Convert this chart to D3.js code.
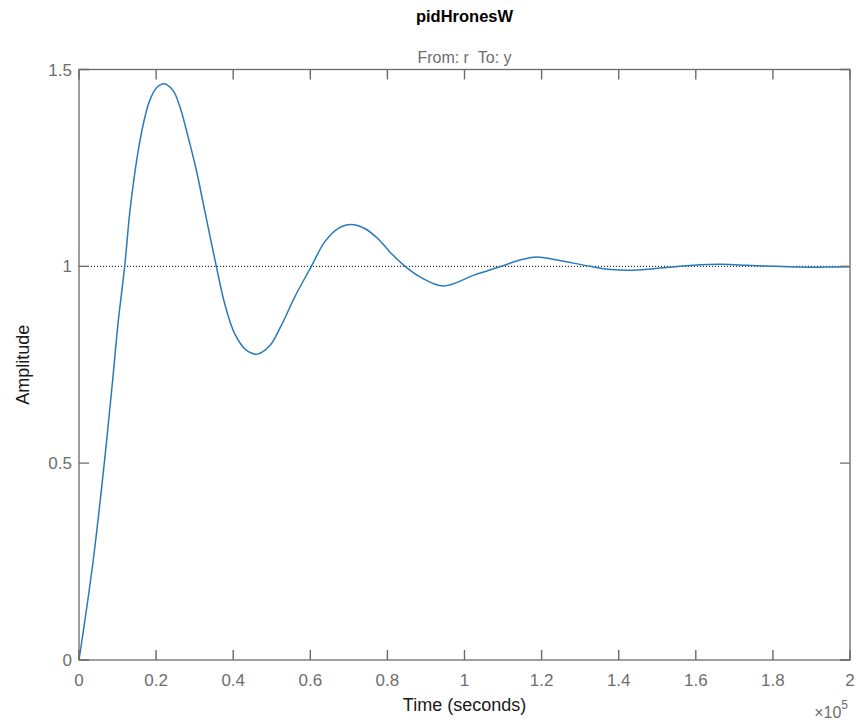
<!DOCTYPE html>
<html>
<head>
<meta charset="utf-8">
<script src="https://cdn.jsdelivr.net/npm/d3@7"></script>
<style>
  body { margin: 0; background: #fff; }
  svg { font-family: "Liberation Sans", Arial, sans-serif; }
</style>
</head>
<body>
<svg id="chart" width="859" height="722"></svg>
<script>
// step response (time in units of 1e5 s)
var time = [0, 0.013, 0.037, 0.0656, 0.0882, 0.1012, 0.1185, 0.1315, 0.1444, 0.1574,
            0.170, 0.1833, 0.2006, 0.2205, 0.2438, 0.2611, 0.2827, 0.3044, 0.326, 0.3562,
            0.378, 0.4038, 0.434, 0.4625, 0.4946, 0.5248, 0.5595, 0.6027, 0.6373, 0.6718,
            0.7064, 0.741, 0.7756, 0.807, 0.846, 0.885, 0.945, 1.023, 1.095, 1.14,
            1.187, 1.24, 1.326, 1.38, 1.429, 1.49, 1.559, 1.61, 1.667, 1.73,
            1.80, 1.87, 1.93, 2.0];
var amplitude = [0, 0.085, 0.254, 0.50, 0.72, 0.855, 1.0, 1.135, 1.235, 1.315,
                 1.375, 1.421, 1.453, 1.464, 1.447, 1.407, 1.330, 1.244, 1.142, 1.0,
                 0.905, 0.829, 0.787, 0.777, 0.798, 0.850, 0.922, 1.0, 1.062, 1.096,
                 1.106, 1.096, 1.070, 1.036, 1.0, 0.973, 0.950, 0.977, 1.0, 1.015,
                 1.024, 1.016, 1.0, 0.992, 0.990, 0.994, 1.0, 1.004, 1.005, 1.003,
                 1.0, 0.998, 0.998, 0.999];
var xTicks = [0, 0.2, 0.4, 0.6, 0.8, 1, 1.2, 1.4, 1.6, 1.8, 2];
var yTicks = [0, 0.5, 1, 1.5];
var steadyState = 1;

var margin = {left: 79, right: 9, top: 69.5, bottom: 62}
  , width = 859
  , height = 722;

var svg = d3.select("#chart");

var x = d3.scaleLinear().domain([0, 2]).range([margin.left, width - margin.right]);
var y = d3.scaleLinear().domain([0, 1.5]).range([height - margin.bottom, margin.top]);

var axisColor = "#6a6a6a"
  , labelColor = "#6e6e6e"
  , tickLen = 10;

// dotted steady state line
svg.append("line")
  .attr("x1", x(0)).attr("x2", x(2))
  .attr("y1", y(steadyState)).attr("y2", y(steadyState))
  .attr("stroke", "#000")
  .attr("stroke-width", 1)
  .attr("stroke-dasharray", "1,2");

// response curve
var line = d3.line()
  .x(function(d, i) { return x(time[i]); })
  .y(function(d) { return y(d); })
  .curve(d3.curveCatmullRom.alpha(0.5));

svg.append("path")
  .datum(amplitude)
  .attr("d", line)
  .attr("fill", "none")
  .attr("stroke", "#2a7ab9")
  .attr("stroke-width", 1.5);

// box + inward ticks (MATLAB look), drawn as one path
var tickPath = d3.path();
xTicks.forEach(function(d) {
  tickPath.moveTo(x(d), y(0)); tickPath.lineTo(x(d), y(0) - tickLen);
  tickPath.moveTo(x(d), y(1.5)); tickPath.lineTo(x(d), y(1.5) + tickLen);
});
yTicks.forEach(function(d) {
  tickPath.moveTo(x(0), y(d)); tickPath.lineTo(x(0) + tickLen, y(d));
  tickPath.moveTo(x(2), y(d)); tickPath.lineTo(x(2) - tickLen, y(d));
});

svg.append("path")
  .attr("d", tickPath.toString())
  .attr("fill", "none")
  .attr("stroke", axisColor)
  .attr("stroke-width", 1.4);

svg.append("rect")
  .attr("x", x(0)).attr("y", y(1.5))
  .attr("width", x(2) - x(0)).attr("height", y(0) - y(1.5))
  .attr("fill", "none")
  .attr("stroke", axisColor)
  .attr("stroke-width", 1.3);

// tick labels
var fmt = d3.format("~g");
svg.append("g").selectAll("text").data(xTicks).enter().append("text")
  .attr("x", d => x(d)).attr("y", y(0) + 26)
  .attr("text-anchor", "middle")
  .style("font-size", "17px")
  .style("fill", labelColor)
  .text(fmt);

svg.append("g").selectAll("text").data(yTicks).enter().append("text")
  .attr("x", x(0) - 7).attr("y", d => y(d) + 6)
  .attr("text-anchor", "end")
  .style("font-size", "17px")
  .style("fill", labelColor)
  .text(fmt);

// labels
var cx = (x(0) + x(2)) / 2;
svg.append("text")
  .attr("x", cx).attr("y", 22)
  .attr("text-anchor", "middle")
  .style("font-weight", "bold")
  .style("font-size", "16.5px")
  .style("fill", "#000")
  .text("pidHronesW");

svg.append("text")
  .attr("x", cx).attr("y", 63)
  .attr("text-anchor", "middle")
  .style("font-size", "16px")
  .style("fill", labelColor)
  .text("From: r\u00a0\u00a0To: y");

svg.append("text")
  .attr("x", cx).attr("y", 711)
  .attr("text-anchor", "middle")
  .style("font-size", "18px")
  .style("fill", "#1a1a1a")
  .text("Time (seconds)");

svg.append("text")
  .attr("transform", "translate(29," + ((y(0) + y(1.5)) / 2) + ") rotate(-90)")
  .attr("text-anchor", "middle")
  .style("font-size", "18px")
  .style("fill", "#1a1a1a")
  .text("Amplitude");

var expo = svg.append("text")
  .attr("x", x(2) - 2).attr("y", 718)
  .attr("text-anchor", "end")
  .style("font-size", "16px")
  .style("fill", labelColor);
expo.append("tspan").text("\u00d710");
expo.append("tspan").attr("dy", -9).style("font-size", "12px").text("5");
</script>
</body>
</html>
